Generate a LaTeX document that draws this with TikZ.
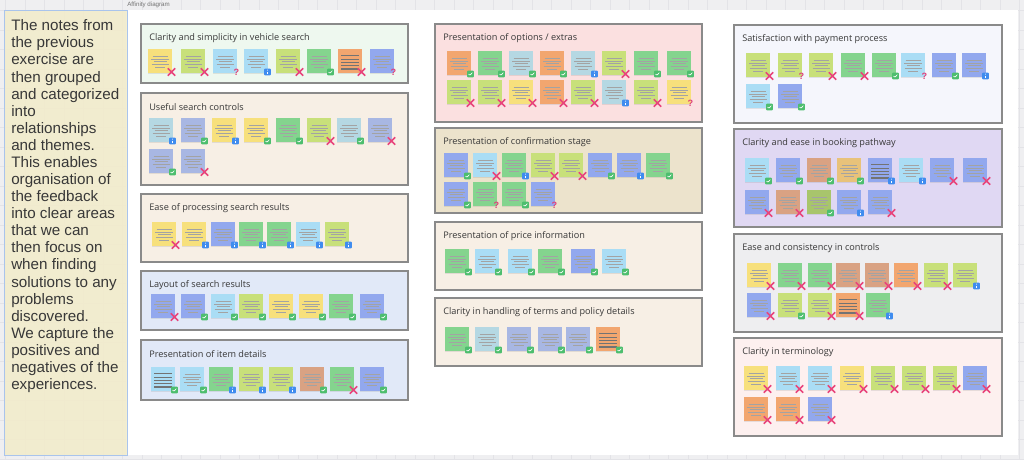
\documentclass[tikz,border=0pt]{standalone}
\usepackage{fontspec}
\setmainfont{Liberation Sans}
\newfontfamily\titlefont{Open Sans}
\usetikzlibrary{positioning,calc,fit,shapes.misc,shadows}

% board colours
\definecolor{canvas}{HTML}{EFEFF1}
\definecolor{gridc}{HTML}{E3E3E7}
\definecolor{introfill}{HTML}{F2ECCB}
\definecolor{introline}{HTML}{A9C4EC}
\definecolor{inktext}{HTML}{383838}
\definecolor{grpline}{HTML}{8A8A8A}
% group fills
\definecolor{gGreen}{HTML}{EEF8EF}
\definecolor{gPeach}{HTML}{F7EFE5}
\definecolor{gBlue}{HTML}{E1E9F8}
\definecolor{gPink}{HTML}{FBE0E0}
\definecolor{gTan}{HTML}{ECE3CC}
\definecolor{gWhite}{HTML}{F5F6FC}
\definecolor{gLav}{HTML}{E0D8F3}
\definecolor{gGrey}{HTML}{EEEEF0}
\definecolor{gRose}{HTML}{FDF0EF}
% sticky note colours
\definecolor{noteY}{HTML}{F7E07C}
\definecolor{noteLG}{HTML}{C8E07A}
\definecolor{noteG}{HTML}{84D48E}
\definecolor{noteLB}{HTML}{AADDF5}
\definecolor{noteB}{HTML}{92A8EE}
\definecolor{noteO}{HTML}{F2A66F}
\definecolor{noteT}{HTML}{B5D8E3}
\definecolor{noteGB}{HTML}{A8B7E3}
\definecolor{noteBR}{HTML}{D9A283}
\definecolor{noteOL}{HTML}{A8C56C}
\definecolor{noteTan}{HTML}{E8C27A}
% marker colours
\definecolor{crossred}{HTML}{E8457C}
\definecolor{checkgreen}{HTML}{4DBE6E}
\definecolor{infoblue}{HTML}{3F8CEF}
\definecolor{qpink}{HTML}{E0407A}

\tikzset{
  note/.style={anchor=north west, minimum width=0.6cm, minimum height=0.6cm, inner sep=0, outer sep=0,
    drop shadow={shadow xshift=0.2pt, shadow yshift=-0.5pt, opacity=0.18}},
  txtline/.style={black!36, line width=0.3pt},
  barline/.style={black!55, line width=0.8pt},
  mkx/.style={cross out, draw=crossred, line width=1.1pt, minimum size=4.2pt, inner sep=0},
  mkc/.style={rectangle, rounded corners=0.6pt, fill=checkgreen, minimum size=4.8pt, inner sep=0,
    path picture={\draw[white, line width=0.45pt] ($(path picture bounding box.center)+(-2,0)$) -- ++(1.3,1.3) -- ++(2.5,-2.6);}},
  mki/.style={rectangle, rounded corners=0.6pt, fill=infoblue, minimum size=4.8pt, inner sep=0,
    path picture={\draw[white, line width=0.5pt] ($(path picture bounding box.center)+(0,-0.3)$) -- ++(0,2.4);
      \fill[white] ($(path picture bounding box.center)+(0,-1.8)$) circle (0.35pt);}},
  mkq/.style={text=qpink, font=\bfseries\fontsize{6.5}{6.5}\selectfont, inner sep=0},
  grp/.style={draw=grpline, line width=0.85pt, inner sep=0, outer sep=0},
  grptitle/.style={anchor=west, inner sep=0, text=inktext, font=\titlefont\fontsize{6.5}{7}\selectfont},
}

% one sticky note: name, x, y, colour, marker, kind (t text / b bars)
\newcommand{\stickynote}[6]{%
  \node[note, fill=note#4] (#1) at (#2,#3) {};
  \if#6b
    \foreach \k in {1,...,5}
      \draw[barline] ($(#1.north west)+(3,3.5+3.3*\k)$) -- ++(18,0);
  \else
    \foreach \w/\k in {15/1,18/2,13/3,17/4,10/5}
      \draw[txtline] ($(#1.north)+(-\w/2,4+2.9*\k)$) -- ++(\w,0);
  \fi
  \node[mk#5] (#1-m) at ($(#1.south east)+(-0.5,-1)$) {\if#5q?\fi};
}
\newcommand{\noterow}[2]{%
  \foreach \nx/\ny/\nc/\nm/\nk [count=\i] in {#2} {%
    \edef\tmp{\noexpand\stickynote{#1-\i}{\nx}{\ny}{\nc}{\nm}{\nk}}\tmp
  }}
% one theme group: name, x1, y1, x2, y2, fill, title
\newcommand{\themebox}[7]{%
  \node[grp, fill=#6, fit={(#2,#3) (#4,#5)}] (#1) {};
  \node[grptitle] (#1-t) at ($(#1.north west)+(8,14)$) {#7};
}

\begin{document}
\begin{tikzpicture}[x=0.025cm, y=-0.025cm]
\useasboundingbox (0,0) rectangle (1024,460);

% canvas with grid
\fill[canvas] (0,0) rectangle (1024,460);
\foreach \gx in {5.5,25,...,1024} \draw[gridc, line width=0.3pt] (\gx,0) -- (\gx,460);
\foreach \gy in {10.5,30,...,460} \draw[gridc, line width=0.3pt] (0,\gy) -- (1024,\gy);
\fill[white] (126,10) rectangle (1018,455);
\node[anchor=west, inner sep=0, text=black!55, font=\fontsize{4.4}{5}\selectfont] (frame-t) at (127,4.5) {Affinity diagram};

% intro panel
\node[anchor=north west, minimum width=3.075cm, minimum height=11.125cm, inner sep=0,
  fill=introfill, fill opacity=0.88, draw=introline, line width=0.6pt] (intro) at (4,10) {};
\node[anchor=north west, inner sep=0, align=left, text=inktext,
  font=\fontsize{10.8}{12.15}\selectfont] (intro-text) at (11,19.5) {The notes from\\the previous\\exercise are\\then grouped\\and categorized\\into\\relationships\\and themes.\\This enables\\organisation of\\the feedback\\into clear areas\\that we can\\then focus on\\when finding\\solutions to any\\problems\\discovered.\\We capture the\\positives and\\negatives of the\\experiences.};

% first column
\themebox{g1}{141}{24}{408}{83}{gGreen}{Clarity and simplicity in vehicle search}
\noterow{g1}{148/49/Y/x/t, 181/49/LG/x/t, 213/49/LB/q/t, 244/49/LB/i/t, 276/49/LG/x/t, 307/49/G/c/t, 338/49/O/x/b, 370/49/B/q/t}

\themebox{g2}{141}{93}{408}{185}{gPeach}{Useful search controls}
\noterow{g2}{149/118/T/i/t, 181/118/GB/c/t, 212/118/Y/i/t, 244/118/Y/c/t, 276/118/G/c/t, 307/118/LG/x/t, 337/118/T/c/t, 368/118/GB/x/t, 149/149/GB/c/t, 181/149/GB/x/t}

\themebox{g3}{141}{194}{408}{262}{gPeach}{Ease of processing search results}
\noterow{g3}{152/222/Y/x/t, 182/222/Y/i/t, 211/222/B/i/t, 239/222/G/i/t, 267/222/G/i/t, 296/222/LB/i/t, 325/222/LG/i/t}

\themebox{g4}{141}{271}{408}{330}{gBlue}{Layout of search results}
\noterow{g4}{151/294/B/x/t, 181/294/B/c/t, 211/294/LB/c/t, 239/294/LG/c/t, 269/294/Y/c/t, 299/294/Y/c/t, 329/294/G/c/t, 360/294/B/c/t}

\themebox{g5}{141}{340}{408}{400}{gBlue}{Presentation of item details}
\noterow{g5}{151/367/LB/c/b, 180/367/LB/c/t, 209/367/G/i/t, 239/367/LG/i/t, 269/367/LG/i/t, 300/367/BR/c/t, 330/367/G/x/t, 360/367/B/c/t}

% second column
\themebox{g6}{435}{24}{702}{122}{gPink}{Presentation of options / extras}
\noterow{g6}{447/51/O/c/t, 478/51/G/c/t, 509/51/T/c/t, 540/51/O/c/t, 571/51/T/i/t, 602/51/LG/x/t, 634/51/G/c/t, 667/51/G/c/t, 447/80/LG/x/t, 478/80/LG/x/t, 509/80/Y/x/t, 540/80/O/x/t, 571/80/LG/x/t, 602/80/T/i/t, 634/80/LG/x/t, 667/80/Y/q/t}

\themebox{g7}{435}{128}{702}{213}{gTan}{Presentation of confirmation stage}
\noterow{g7}{444/153/B/c/t, 473/153/LB/x/t, 502/153/G/i/t, 531/153/LG/x/t, 559/153/LG/x/t, 588/153/B/c/t, 617/153/B/i/t, 646/153/G/c/t, 444/182/B/c/t, 473/182/G/q/t, 502/182/G/c/t, 531/182/B/q/t}

\themebox{g8}{435}{222}{702}{290}{gPeach}{Presentation of price information}
\noterow{g8}{445/249/G/c/t, 475/249/LB/c/t, 508/249/LB/c/t, 538/249/G/c/t, 571/249/B/c/t, 602/249/LB/c/t}

\themebox{g9}{435}{298}{702}{366}{gPeach}{Clarity in handling of terms and policy details}
\noterow{g9}{445/327/G/c/t, 475/327/T/c/t, 507/327/GB/c/t, 538/327/GB/c/t, 566/327/GB/c/t, 596/327/O/c/b}

% third column
\themebox{g10}{734}{25}{1002}{123}{gWhite}{Satisfaction with payment process}
\noterow{g10}{746/53/LG/x/t, 778/53/LG/q/t, 809/53/LG/x/t, 841/53/G/x/t, 872/53/G/c/t, 901/53/LB/q/t, 932/53/B/c/t, 962/53/B/i/t, 746/84/LB/c/t, 778/84/B/c/t}

\themebox{g11}{734}{129}{1002}{227}{gLav}{Clarity and ease in booking pathway}
\noterow{g11}{745/158/LB/c/t, 776/158/B/c/t, 807/158/BR/c/t, 837/158/Tan/c/t, 868/158/B/i/b, 899/158/LB/i/t, 930/158/B/x/t, 963/158/B/x/t, 745/190/B/x/t, 776/190/BR/x/t, 807/190/OL/c/t, 837/190/B/i/t, 868/190/B/x/t}

\themebox{g12}{734}{234}{1002}{332}{gGrey}{Ease and consistency in controls}
\noterow{g12}{747/263/Y/x/t, 778/263/G/x/t, 808/263/G/x/t, 836/263/BR/x/t, 865/263/BR/x/t, 894/263/O/x/t, 924/263/LG/x/t, 953/263/LG/i/t, 747/293/B/x/t, 778/293/LG/c/t, 808/293/LG/x/t, 836/293/O/x/b, 866/293/G/i/t}

\themebox{g13}{734}{338}{1002}{436}{gRose}{Clarity in terminology}
\noterow{g13}{744/366/Y/x/t, 776/366/LB/x/t, 808/366/LB/x/t, 840/366/Y/x/t, 871/366/LG/x/t, 902/366/LG/x/t, 933/366/LG/x/t, 963/366/B/x/t, 744/397/O/x/t, 776/397/O/x/t, 808/397/B/x/t}
\end{tikzpicture}
\end{document}
